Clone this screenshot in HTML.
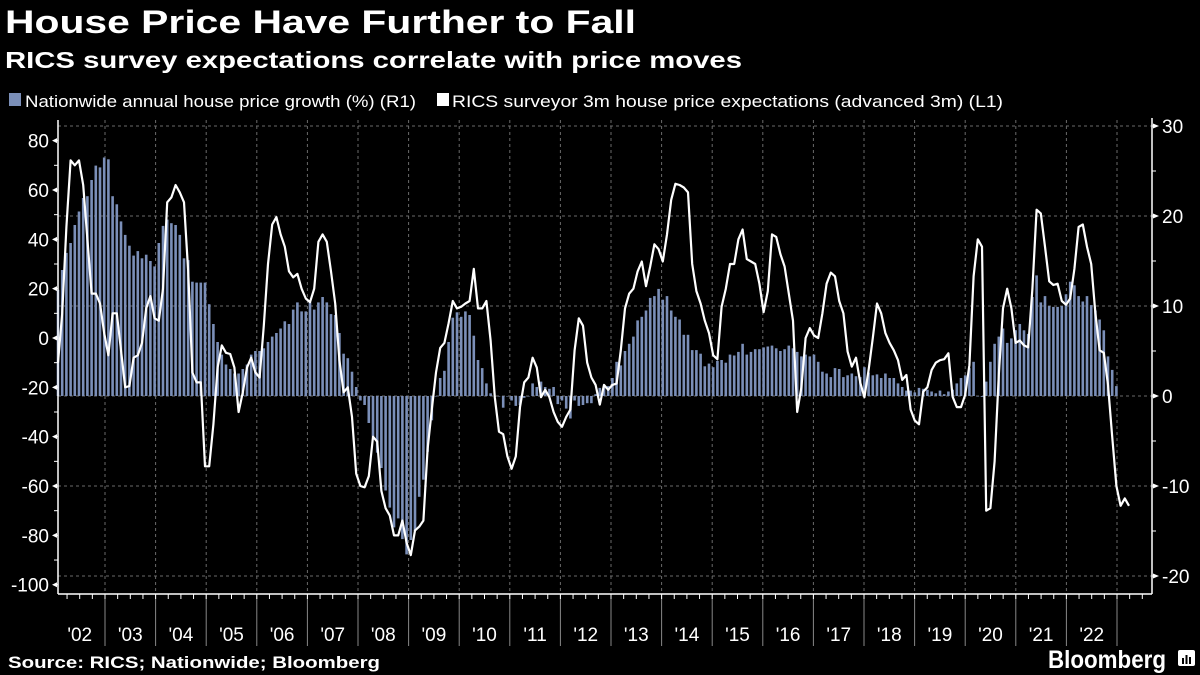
<!DOCTYPE html>
<html><head><meta charset="utf-8"><style>
html,body{margin:0;padding:0;background:#000;width:1200px;height:675px;overflow:hidden}
svg{display:block}
text{font-family:"Liberation Sans","DejaVu Sans",sans-serif;fill:#fff}
</style></head><body>
<svg id="chart" width="1200" height="675" viewBox="0 0 1200 675">
<text x="5" y="33" font-size="32" font-weight="bold" textLength="631" lengthAdjust="spacingAndGlyphs">House Price Have Further to Fall</text>
<text x="5" y="68" font-size="23" font-weight="bold" textLength="737" lengthAdjust="spacingAndGlyphs">RICS survey expectations correlate with price moves</text>
<g>
<rect x="9" y="93" width="12" height="13" fill="#7b8fb8"/>
<text x="25" y="107" font-size="17" textLength="391" lengthAdjust="spacingAndGlyphs">Nationwide annual house price growth (%) (R1)</text>
<rect x="437" y="93" width="12" height="13" fill="#fff"/>
<text x="452" y="107" font-size="17" textLength="551" lengthAdjust="spacingAndGlyphs">RICS surveyor 3m house price expectations (advanced 3m) (L1)</text>
</g>
<g id="grid"></g>
<g id="bars"></g>
<g id="line"></g>
<g id="axes"></g>
<text x="8" y="668" font-size="17" font-weight="bold" textLength="372" lengthAdjust="spacingAndGlyphs">Source: RICS; Nationwide; Bloomberg</text>
<text x="1048" y="668" font-size="25" font-weight="bold" textLength="118" lengthAdjust="spacingAndGlyphs">Bloomberg</text>
<g><rect x="1178" y="650" width="17" height="16" rx="2" fill="#fff"/><rect x="1182" y="658" width="2" height="6" fill="#000"/><rect x="1185.5" y="655" width="2" height="9" fill="#000"/><rect x="1189" y="657" width="2" height="7" fill="#000"/></g>
</svg>
<script>
const years = ["'02","'03","'04","'05","'06","'07","'08","'09","'10","'11","'12","'13","'14","'15","'16","'17","'18","'19","'20","'21","'22"];
const leftTicks = [80,60,40,20,0,-20,-40,-60,-80,-100];
const rightTicks = [30,20,10,0,-10,-20];
const nationwide = [
11.8,14,15.9,17,19,20.5,22,22.2,24,25.6,25.4,26.5,
26.3,22.2,21.3,19.4,17.9,16.7,15.6,16.1,15.3,15.7,15,14.4,
17,18.9,19.6,19.2,19,17.9,15.3,15.1,12.7,12.6,12.6,12.6,
10.2,8,6,4.6,3.5,3,2.5,2.5,3,3.5,4.6,5,
5,5.3,6,6.6,7,7.5,8.3,8,9.6,10.4,9.4,9.4,
10.4,9.6,10.4,11,10.4,9.1,9,7,4.7,4.2,2.7,1,
-0.5,-1,-3,-4.5,-6.3,-8,-10.5,-12.4,-14.6,-13.6,-15.9,-17.6,
-16,-15,-11.2,-9.3,-6.2,-2.7,0,2,2.8,6,8.7,9.3,
8.8,9.4,9,6.7,4,3.1,1.4,0.3,0,0,-1.3,0,
-0.5,-1.1,-1,-0.2,0,1.4,1,1.6,1,0.8,1,-0.9,
-0.5,-1.4,-2.5,-0.5,-1.1,-1,-0.8,-0.8,0.2,0.9,1.1,1.1,
2,3.8,3.4,5,5.8,6.6,8.4,8.8,9.5,10.9,11.1,11.9,
10.7,11.1,9.5,8.8,8.5,6.8,6.8,5.1,5.1,4.7,3.3,3.6,
3.2,3.9,4,3.7,4.6,4.5,4.9,5.8,4.6,4.9,5.2,5.2,
5.4,5.5,5.6,5.3,5,5.2,5.6,5.3,4.9,4.4,4.6,4.4,
4.6,3.8,2.7,2.5,2.1,3.1,3,2.1,2.3,2.5,2.2,2.1,
3.2,2.6,2.3,2.4,2,2.5,2,2,1.4,1,0.6,0.6,
0.4,0.9,0.8,0.7,0.5,0.3,0.6,0.2,0.5,0.7,1.4,2,
2.3,3.1,3.8,0,-0.1,1.6,3.8,5.8,6.6,7.5,5.9,6.4,
7.3,8,7.3,6.9,11,13.4,10.4,11.1,10,9.9,9.9,10,
11.3,12.7,12.3,11.1,10.5,11.1,10.1,9.5,8.5,7.3,4.4,2.9,
1.1];
const rics = [
-10,10,45,72,70,72,62,40,18,18,14,2,
-7,10,10,-5,-20,-19.5,-8,-7,-2,12,17,8,
7,20,55,57,62,59,55,27,-14,-18,-18,-52,
-52,-35,-12,-3,-6,-6.5,-12,-30,-22,-12,-8,-14,
-16,5,30,46,49,42,37,27,24.6,26,20,16,
14.5,20,39,42,39,27,14,-9,-22,-20,-32,-55,
-60,-60.5,-56,-40,-42,-62,-69,-72,-80,-80,-74,-83,
-88,-78,-76.5,-74,-45,-29,-14,-4,-2,6,15,12,
12.7,14,15,28,12,12,15,-1,-24,-38,-39,-48,
-53,-48,-28,-18,-16,-8,-12,-24,-21,-24,-30,-34,
-36,-32,-29,-5,8,5,-10,-16,-19,-27,-19,-21,
-19,-18.5,-5,12,18,20,27,31,21,29,38,36,
31,42,56,62.5,62,61,59,30,19,14,7,2,
-7,-8.6,12.7,20,30,30,40,44,32,31,30,22,
10.5,19,42,41,34,29,18,7,-30,-20,0,4,
1,0,10,22,26.5,25,15,10,-5.5,-11.6,-8,-18,
-24,-13,0,14,10,2,-2,-5,-9,-17,-15,-29,
-33.5,-35,-21.8,-20,-13,-10,-9,-8.6,-6.2,-23.8,-28,-28,
-23,-11,25,40,37,-70,-69,-50,-15,12,20,12,
-2,-1,-3,-3.8,20,52,50.5,37,23,21.5,22,15,
13.5,16,28,45,46,37,30,10,-5,-6,-19,-40,
-60,-68,-65,-68];

const SVGNS='http://www.w3.org/2000/svg';
const X0=58, X1=1152, Y0=120, Y1=594;
const xMonth = i => 58 + i*4.2;
const yLeft = v => 338 - v*2.467;
const yRight = v => 396 - v*9;
const yearStart = k => 54.4 + k*50.6;
function mk(tag, attrs, parent){const e=document.createElementNS(SVGNS,tag);for(const k in attrs)e.setAttribute(k,attrs[k]);parent.appendChild(e);return e;}
const grid=document.getElementById('grid'), bars=document.getElementById('bars'), line=document.getElementById('line'), axes=document.getElementById('axes');

rightTicks.forEach(v=>{
  const g=mk('line',{x1:X0,x2:X1,y1:yRight(v),y2:yRight(v),stroke:'#6a6a6a','stroke-width':1,'stroke-dasharray':'3,3'},grid);
  
  
});
for(let k=1;k<=years.length;k++){
  const x=yearStart(k);
  const g=mk('line',{x1:x,x2:x,y1:Y0,y2:Y1,stroke:'#6a6a6a','stroke-width':1,'stroke-dasharray':'3,3'},grid);
  
  
  const s=mk('line',{x1:x,x2:x,y1:Y1,y2:646,stroke:'#888','stroke-width':1},axes);
  
  
}

nationwide.forEach((v,i)=>{
  const x=xMonth(i), y=yRight(v), b=yRight(0);
  const r=mk('rect',{x:x-1.3,y:Math.min(y,b),width:2.6,height:Math.max(Math.abs(b-y),0.5),fill:'#7b8fb8'},bars);
  
  
});

const pts=rics.map((v,i)=>xMonth(i).toFixed(1)+','+yLeft(v).toFixed(1)).join(' ');
const pl=mk('polyline',{points:pts,fill:'none',stroke:'#fff','stroke-width':2.2,'stroke-linejoin':'round'},line);



mk('line',{x1:X0,x2:X0,y1:Y0,y2:Y1,stroke:'#fff','stroke-width':1.5},axes);
mk('line',{x1:X1,x2:X1,y1:Y0-2,y2:Y1,stroke:'#fff','stroke-width':1.5},axes);
mk('line',{x1:X0,x2:X1,y1:Y1,y2:Y1,stroke:'#fff','stroke-width':1.5},axes);
for(let v=-100;v<=80;v+=10){mk('line',{x1:X0-4,x2:X0,y1:yLeft(v),y2:yLeft(v),stroke:'#fff','stroke-width':1},axes);}
for(let v=-20;v<=30;v+=5){mk('line',{x1:X1,x2:X1+4,y1:yRight(v),y2:yRight(v),stroke:'#fff','stroke-width':1},axes);}
for(let q=0;q<21*4+3;q++){const x=yearStart(0)+q*12.65; if(x>X0+2&&x<X1-2) mk('line',{x1:x,x2:x,y1:Y1,y2:Y1+5,stroke:'#fff','stroke-width':1},axes);}

leftTicks.forEach(v=>{
  const y=yLeft(v);
  mk('path',{d:`M${X0-1},${y-2.5} L${X0-6},${y} L${X0-1},${y+2.5}Z`,fill:'#fff'},axes);
  const t=mk('text',{x:X0-9,y:y+7,'font-size':19,'text-anchor':'end'},axes);
  t.textContent=v;
  
  
});
rightTicks.forEach(v=>{
  const y=yRight(v);
  mk('path',{d:`M${X1+1},${y-2.5} L${X1+7},${y} L${X1+1},${y+2.5}Z`,fill:'#fff'},axes);
  const t=mk('text',{x:X1+10,y:y+7,'font-size':19},axes);
  t.textContent=v;
  
  
});
years.forEach((lab,k)=>{
  const t=mk('text',{x:yearStart(k)+25.3,y:641,'font-size':19,'text-anchor':'middle'},axes);
  t.textContent=lab;
  
  
});
</script>
</body></html>
